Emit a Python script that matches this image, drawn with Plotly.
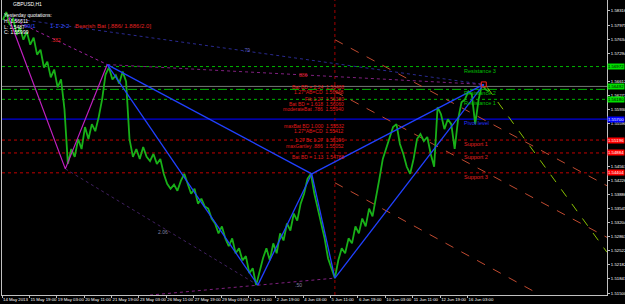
import plotly.graph_objects as go

# ---------------- data ----------------
bar_step = 4  # one sample every 4 H1 bars
close = [1.5810, 1.5829, 1.5798, 1.5815, 1.5774, 1.5791, 1.5762, 1.5781, 1.5750, 1.5767,
         1.5726, 1.5738, 1.5695, 1.5709, 1.5671, 1.5690, 1.5647, 1.5666, 1.5594, 1.5462,
         1.5498, 1.5479, 1.5522, 1.5498, 1.5551, 1.5522, 1.5558, 1.5541, 1.5575, 1.5618,
         1.5678, 1.5695, 1.5666, 1.5676, 1.5656, 1.5685, 1.5661, 1.5522, 1.5479, 1.5498,
         1.5474, 1.5503, 1.5479, 1.5469, 1.5486, 1.5462, 1.5474, 1.5438, 1.5414, 1.5402,
         1.5412, 1.5397, 1.5421, 1.5438, 1.5414, 1.5390, 1.5402, 1.5366, 1.5378, 1.5359,
         1.5354, 1.5330, 1.5318, 1.5294, 1.5311, 1.5282, 1.5263, 1.5282, 1.5246, 1.5258,
         1.5229, 1.5239, 1.5198, 1.5210, 1.5169, 1.5205, 1.5234, 1.5258, 1.5229, 1.5270,
         1.5246, 1.5294, 1.5277, 1.5318, 1.5301, 1.5342, 1.5325, 1.5366, 1.5390, 1.5426,
         1.5438, 1.5390, 1.5354, 1.5318, 1.5282, 1.5234, 1.5210, 1.5186, 1.5229, 1.5258,
         1.5246, 1.5282, 1.5270, 1.5311, 1.5294, 1.5330, 1.5311, 1.5354, 1.5335, 1.5378,
         1.5426, 1.5474, 1.5498, 1.5522, 1.5551, 1.5558, 1.5510, 1.5486, 1.5455, 1.5438,
         1.5474, 1.5522, 1.5534, 1.5517, 1.5527, 1.5486, 1.5455, 1.5599, 1.5582, 1.5546,
         1.5570, 1.5558, 1.5498, 1.5570, 1.5611, 1.5618, 1.5637, 1.5630, 1.5558, 1.5618,
         1.5654, 1.5642, 1.5637]
bars = [i * bar_step for i in range(len(close))]

x_tick_bars = [-1 + 32 * k for k in range(18)]
x_tick_text = ["14 May 2013", "15 May 19:00", "19 May 03:00", "20 May 11:00", "21 May 19:00",
               "23 May 03:00", "26 May 11:00", "27 May 19:00", "29 May 03:00", "1 Jun 11:00",
               "2 Jun 19:00", "4 Jun 03:00", "5 Jun 11:00", "6 Jun 19:00", "10 Jun 03:00",
               "11 Jun 11:00", "12 Jun 19:00", "16 Jun 03:00"]
# tick labels that are not covered by the coloured price tags
y_tick_vals = [1.51500, 1.51841, 1.52182, 1.52522, 1.52863, 1.53204, 1.53545, 1.53886,
               1.54226, 1.54567, 1.55590, 1.55930, 1.56271, 1.56612,
               1.57294, 1.57634, 1.57975, 1.58316]
x_range = [-1, 706]
y_range = [1.51452, 1.5858]

# harmonic pattern pivots X A B C D (blue) and magenta leg
pat_bars = [122, 298, 361, 388, 562]
pat_prices = [1.5702, 1.5169, 1.5438, 1.5186, 1.5654]
mag_bars = [7, 73, 122]
mag_prices = [1.5815, 1.5450, 1.5702]

# pivot levels
level_names = ["Resistance 3", "Resistance 2", "Resistance 1", "Pivot level", "Support 1", "Support 2", "Support 3"]
level_prices = [1.56972, 1.56420, 1.56180, 1.55700, 1.55196, 1.54884, 1.54404]
bid_price = 1.56492

# fib / pattern projection labels
fib_texts = ["Bat BD = 2.24", "1.27*AB=CD", "Fib 1.27", "Bat BD = 1.618", "moderateBat .786",
             "maxBat BD 1.000", "1.27*AB=CD", "1.27 Bc 1.27", "maxGartley .886", "Bat BD = 1.13"]
fib_prices = [1.56468, 1.56348, 1.56180, 1.56060, 1.55940, 1.55532, 1.55412, 1.55196, 1.55052, 1.54788]

# channel / trend lines (start bar, start price, end bar, end price)
red_channel = [(388, 1.5762, 706, 1.54092), (388, 1.56372, 706, 1.52844), (388, 1.54164, 624, 1.5150)]
green_proj = (566, 1.56468, 706, 1.52484)

# ---------------- figure ----------------
FONT = "Liberation Sans"
AX = 4.3
fig = go.Figure()

def seg(xs, ys, color, width=1.0, dash="solid"):
    fig.add_trace(go.Scatter(x=xs, y=ys, mode="lines", line=dict(color=color, width=width, dash=dash),
                             hoverinfo="skip", showlegend=False))

# horizontal levels
lvl_colors = ["#00b400", "#00b400", "#00b400", "#0000e0", "#c00000", "#c00000", "#c00000"]
lvl_dash = ["dot", "dashdot", "dot", "solid", "dot", "dot", "dot"]
for p, c, d in zip(level_prices, lvl_colors, lvl_dash):
    fig.add_shape(type="line", xref="paper", x0=0, x1=1, y0=p, y1=p,
                  line=dict(color=c, width=1.3 if d == "solid" else 1, dash=d), layer="below")
fig.add_shape(type="line", xref="paper", x0=0, x1=1, y0=bid_price, y1=bid_price,
              line=dict(color="#777777", width=1), layer="below")
# vertical red dotted line at C
fig.add_shape(type="line", yref="paper", x0=pat_bars[3], x1=pat_bars[3], y0=0, y1=1,
              line=dict(color="#a00000", width=1, dash="dot"), layer="below")

# red channel & green projection
for x0, y0, x1, y1 in red_channel:
    seg([x0, x1], [y0, y1], "#c04a30", 1, "dash")
seg([green_proj[0], green_proj[2]], [green_proj[1], green_proj[3]], "#88c000", 1, "dash")

# dotted pattern helper lines
seg([mag_bars[0], pat_bars[4]], [mag_prices[0], pat_prices[4]], "#2a2a90", 1, "dot")
seg([mag_bars[0], mag_bars[2]], [mag_prices[0], mag_prices[2]], "#a020a0", 1, "dot")
seg([mag_bars[2], pat_bars[4]], [mag_prices[2], pat_prices[4]], "#802080", 1, "dot")
seg([mag_bars[1], pat_bars[1]], [mag_prices[1], pat_prices[1]], "#402060", 1, "dot")
seg([172, pat_bars[3]], [1.5145, pat_prices[3]], "#802080", 1, "dot")

# price
fig.add_trace(go.Scatter(x=bars, y=close, mode="lines", line=dict(color="#18b018", width=1.8),
                         hoverinfo="skip", showlegend=False))

# magenta leg
seg(mag_bars, mag_prices, "#c020c0", 1.2)
# blue pattern
X, A, B, C, D = range(5)
for i, j in [(X, A), (A, B), (B, C), (C, D), (X, B), (B, D)]:
    seg([pat_bars[i], pat_bars[j]], [pat_prices[i], pat_prices[j]], "#2040ff", 1.3)
# D marker
fig.add_trace(go.Scatter(x=[pat_bars[4]], y=[pat_prices[4]], mode="markers",
                         marker=dict(symbol="square-open", size=5, color="#ff2020", line=dict(width=1)),
                         hoverinfo="skip", showlegend=False))

ann = []
def txt(x, y, s, color, size=5.5, xanchor="left", xref="x", yref="y", bg=None, yanchor="middle"):
    a = dict(x=x, y=y, xref=xref, yref=yref, text=s, showarrow=False, xanchor=xanchor, yanchor=yanchor,
             font=dict(family=FONT, size=size, color=color), borderpad=0)
    if bg:
        a["bgcolor"] = bg
    ann.append(a)

# level labels
lvl_text_col = ["#00c000", "#00c000", "#00c000", "#2030ff", "#e02020", "#e02020", "#e02020"]
for n, p, c in zip(level_names, level_prices, lvl_text_col):
    txt(538, p, n, c, 5.5, yanchor="top")

# fib labels
for t, p in zip(fib_texts, fib_prices):
    txt(400, p, t + "  " + "%.5f" % p, "#e01818", 5, xanchor="right")

# right axis price tags
tag_prices = [level_prices[0], bid_price, level_prices[2], level_prices[3], level_prices[4], level_prices[5], level_prices[6]]
tag_bg = ["#00e000", "#00e000", "#00e000", "#0000ff", "#ff0000", "#ff0000", "#ff0000"]
tag_fg = ["#000000", "#000000", "#000000", "#ffffff", "#ffffff", "#ffffff", "#ffffff"]
for p, b, f in zip(tag_prices, tag_bg, tag_fg):
    txt(1.0, p, "%.5f" % p, f, AX, xref="paper", bg=b)

# top-left info
txt(0.017, 0.985, "GBPUSD,H1", "#ffffff", 5, xref="paper", yref="paper")
txt(0.002, 0.948, "Yesterday quotations:", "#ffffff", 5, xref="paper", yref="paper")
txt(0.002, 0.928, "H: 1.56611", "#ffffff", 5, xref="paper", yref="paper")
txt(0.002, 0.910, "L: 1.5487", "#ffffff", 5, xref="paper", yref="paper")
txt(0.002, 0.893, "C: 1.55999", "#ffffff", 5, xref="paper", yref="paper")
txt(0.035, 0.912, "99/1", "#3050ff", 6, xref="paper", yref="paper")
txt(0.077, 0.912, "1-1-2-2", "#3050ff", 6, xref="paper", yref="paper")
txt(0.119, 0.912, "Bearish Bat [.886/ 1.886/2.0]", "#e02020", 6, xref="paper", yref="paper")
# ratio labels
txt(55, 1.5762, ".382", "#e02020", 5)
txt(280, 1.5738, ".79", "#6060c0", 5)
txt(345, 1.5676, "886", "#e02020", 5)
txt(180, 1.5297, "2.06", "#8080a0", 5)
txt(340, 1.5170, ".50", "#8080a0", 5)

fig.update_layout(
    width=625, height=304, margin=dict(l=2, r=18, t=0, b=9),
    paper_bgcolor="#000000", plot_bgcolor="#000000",
    annotations=ann, showlegend=False,
    xaxis=dict(range=x_range, tickvals=x_tick_bars, ticktext=x_tick_text, showgrid=False, zeroline=False,
               ticks="outside", ticklen=2, tickcolor="#c0c0c0", ticklabelposition="outside right",
               tickangle=0,
               tickfont=dict(family=FONT, size=AX, color="#ffffff"), showline=True, linecolor="#c0c0c0",
               mirror=True, automargin=False),
    yaxis=dict(range=y_range, tickvals=y_tick_vals, tickformat=".5f", side="right", showgrid=False,
               zeroline=False, ticks="outside", ticklen=2, tickcolor="#c0c0c0",
               tickfont=dict(family=FONT, size=AX, color="#ffffff"), showline=True, linecolor="#c0c0c0",
               mirror=True, automargin=False),
)
fig.write_html("out.html")
